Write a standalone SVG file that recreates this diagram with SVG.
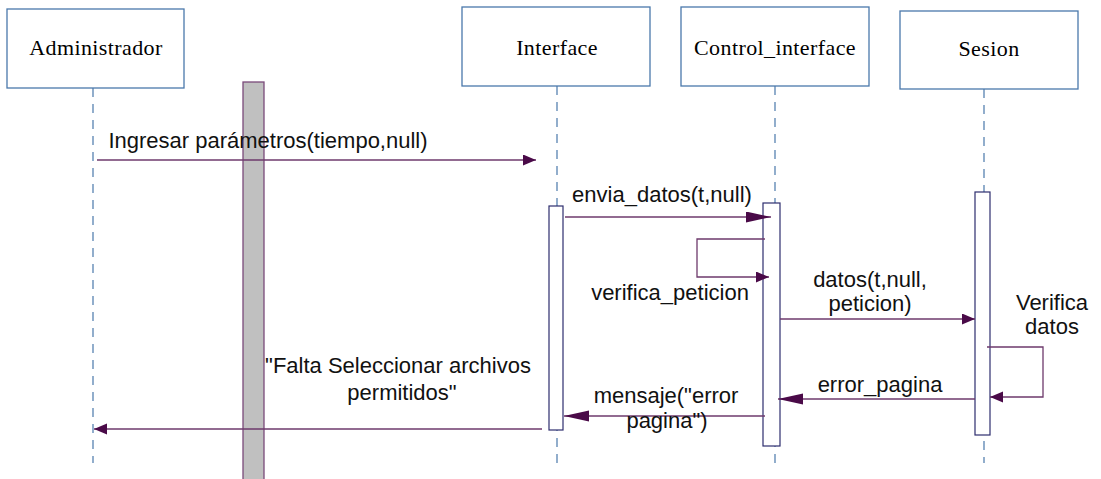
<svg xmlns="http://www.w3.org/2000/svg" width="1101" height="479" viewBox="0 0 1101 479">
<defs>
<style>
.box{fill:#fff;stroke:#4a78ab;stroke-width:1.3}
.lbl{font-family:"Liberation Serif","Times New Roman",serif;font-size:22px;letter-spacing:0.4px;fill:#000;text-anchor:middle}
.life{stroke:#4a78ab;stroke-width:1.2;stroke-dasharray:9,7;fill:none}
.act{fill:#fff;stroke:#2e2e6e;stroke-width:1.2}
.msg{stroke:#6e3a6c;stroke-width:1.3;fill:none}
.txt{font-family:"Liberation Sans",Arial,sans-serif;font-size:22px;fill:#111;text-anchor:middle}
</style>
<marker id="hs" markerUnits="userSpaceOnUse" markerWidth="14" markerHeight="12" refX="13" refY="5.5" orient="auto">
<path d="M0,0 L13,5.5 L0,11 Z" fill="#4a0a48"/>
</marker>
<marker id="hl" markerUnits="userSpaceOnUse" markerWidth="26" markerHeight="12" refX="25" refY="5.5" orient="auto">
<path d="M0,0 L25,5.5 L0,11 Z" fill="#4a0a48"/>
</marker>
</defs>
<rect x="0" y="0" width="1101" height="479" fill="#fff"/>

<g id="lifelines">
<line class="life" x1="93" y1="88" x2="93" y2="463"/>
<line class="life" x1="557" y1="86" x2="557" y2="463"/>
<line class="life" x1="775" y1="86" x2="775" y2="463"/>
<line class="life" x1="984" y1="89" x2="984" y2="463"/>
</g>

<g id="Administrador">
<rect class="box" x="7" y="9" width="177" height="79"/>
<text class="lbl" x="96" y="55">Administrador</text>
</g>
<g id="Interface">
<rect class="box" x="462" y="7" width="188" height="79"/>
<text class="lbl" x="557" y="55">Interface</text>
</g>
<g id="Control_interface">
<rect class="box" x="681" y="7" width="188" height="79"/>
<text class="lbl" x="775" y="55">Control_interface</text>
</g>
<g id="Sesion">
<rect class="box" x="900" y="11" width="178" height="78"/>
<text class="lbl" x="989" y="56">Sesion</text>
</g>

<g id="bar">
<rect x="243" y="82" width="21" height="400" fill="#c0c0c0" stroke="#7a4a7a" stroke-width="1.3"/>
</g>

<g id="activations">
<rect class="act" x="549" y="206" width="14" height="224"/>
<rect class="act" x="763" y="203" width="17" height="243"/>
<rect class="act" x="975" y="192" width="15" height="243"/>
</g>

<g id="connectors">
<line class="msg" x1="97" y1="160" x2="536" y2="160" marker-end="url(#hs)"/>
<line class="msg" x1="565" y1="217" x2="771" y2="217" marker-end="url(#hl)"/>
<polyline class="msg" points="765,239 697,239 697,277 769,277" marker-end="url(#hs)"/>
<line class="msg" x1="780" y1="319" x2="975" y2="319" marker-end="url(#hs)"/>
<polyline class="msg" points="987,347 1043,347 1043,397 990,397" marker-end="url(#hs)"/>
<line class="msg" x1="975" y1="399" x2="778" y2="399" marker-end="url(#hl)"/>
<line class="msg" x1="765" y1="416" x2="564" y2="416" marker-end="url(#hl)"/>
<line class="msg" x1="542" y1="429" x2="94" y2="429" marker-end="url(#hs)"/>
</g>

<g id="labels">
<text class="txt" x="268" y="148">Ingresar parámetros(tiempo,null)</text>
<text class="txt" x="662" y="202">envia_datos(t,null)</text>
<text class="txt" x="670" y="300">verifica_peticion</text>
<text class="txt" x="870" y="287">datos(t,null,</text>
<text class="txt" x="870" y="311">peticion)</text>
<text class="txt" x="1052" y="310">Verifica</text>
<text class="txt" x="1052" y="334">datos</text>
<text class="txt" x="880" y="392">error_pagina</text>
<text class="txt" x="666" y="403">mensaje("error</text>
<text class="txt" x="667" y="428">pagina")</text>
<text class="txt" x="398" y="373">"Falta Seleccionar archivos</text>
<text class="txt" x="402" y="400">permitidos"</text>
</g>
</svg>
